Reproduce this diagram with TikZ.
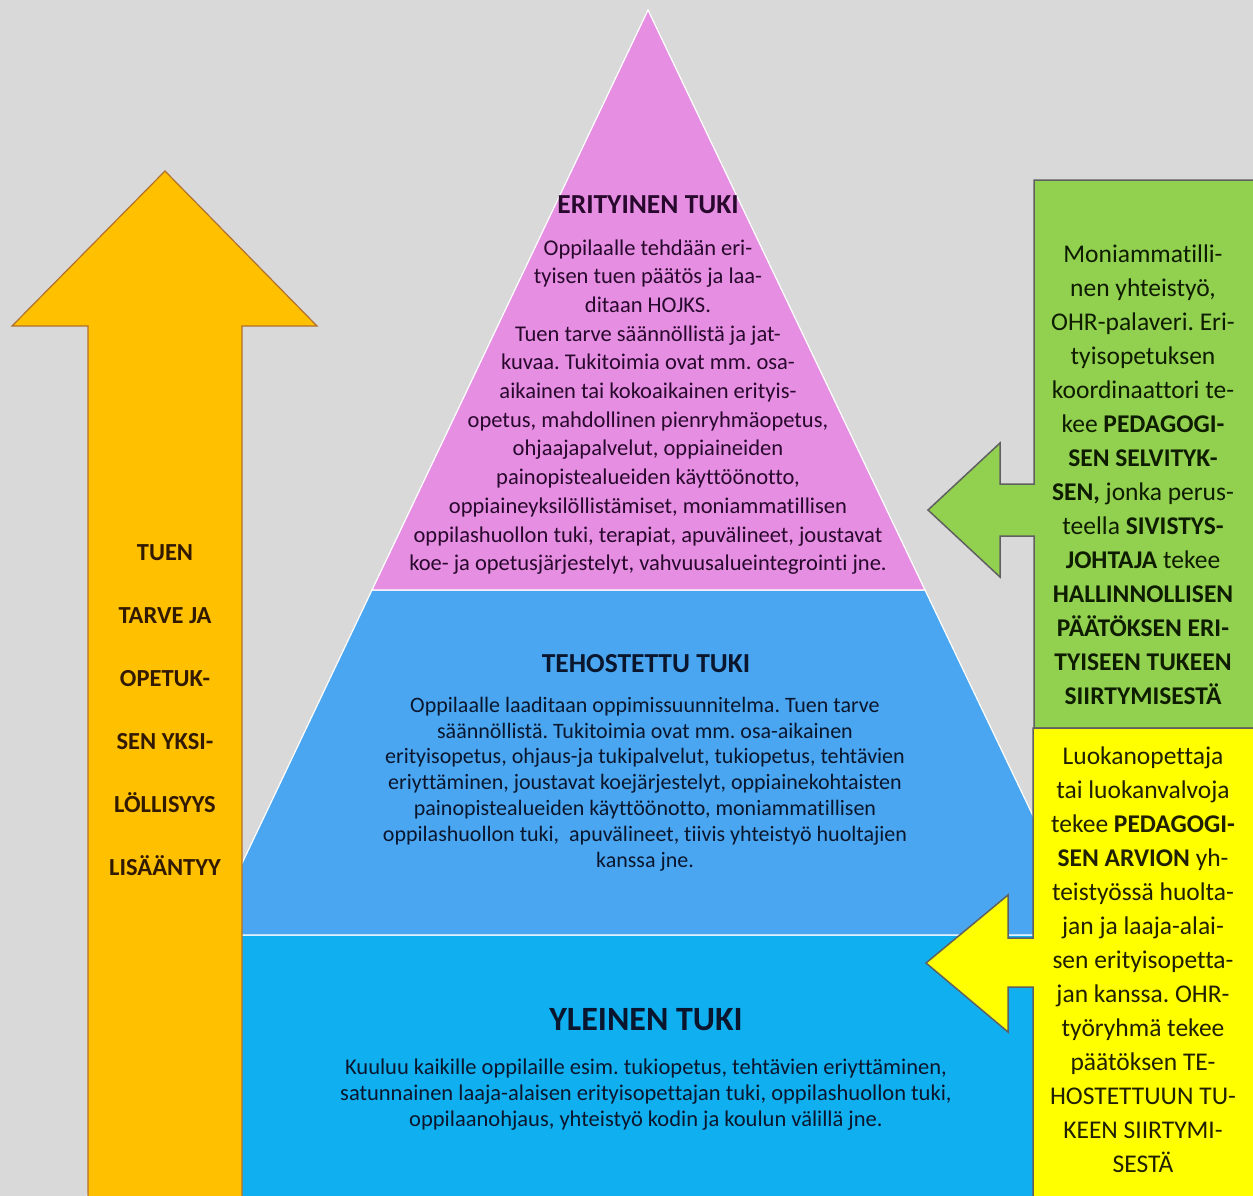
\documentclass[tikz,border=0pt]{standalone}
\usepackage{fontspec}
\setmainfont{Carlito}[Ligatures={NoCommon}]
\frenchspacing
\definecolor{bg}{RGB}{217,217,217}
\definecolor{pinkfill}{RGB}{230,143,226}
\definecolor{midblue}{RGB}{74,166,240}
\definecolor{lowblue}{RGB}{16,176,240}
\definecolor{orangefill}{RGB}{255,192,0}
\definecolor{orangeedge}{RGB}{176,112,48}
\definecolor{greenfill}{RGB}{146,208,80}
\definecolor{yellowfill}{RGB}{255,255,0}
\definecolor{boxedge}{RGB}{96,96,96}
\definecolor{pinktext}{RGB}{40,8,45}
\definecolor{bluetext}{RGB}{10,22,45}
\definecolor{greentext}{RGB}{14,28,0}
\definecolor{yellowtext}{RGB}{32,32,0}
\definecolor{orangetext}{RGB}{50,26,0}
\tikzset{
  layer/.style={draw=white, line width=1.2pt, line join=miter},
  headtxt/.style={font=\fontsize{27.5}{32}\selectfont\bfseries, inner sep=0pt},
  bodytxt/.style={align=center, inner sep=0pt},
  sidetxt/.style={align=center, inner sep=0pt, font=\fontsize{25.5}{34}\selectfont},
}
\begin{document}
\begin{tikzpicture}[x=1pt,y=-1pt]
\useasboundingbox (0,0) rectangle (1253,1196);
\clip (0,0) rectangle (1253,1196);
\fill[bg] (0,0) rectangle (1253,1196);
% pyramid
\draw[layer, fill=lowblue] (208,935) -- (1090,935) -- (1215,1200) -- (85,1200) -- cycle;
\draw[layer, fill=midblue] (372,590) -- (925,590) -- (1090,935) -- (208,935) -- cycle;
\draw[layer, fill=pinkfill] (648,10) -- (925,590) -- (372,590) -- cycle;
% orange arrow
\draw[fill=orangefill, draw=orangeedge, line width=1.2pt, line join=miter]
  (165,171) -- (317,326) -- (242,326) -- (242,1205) -- (88,1205) -- (88,326) -- (12,326) -- cycle;
% green callout
\draw[fill=greenfill, draw=boxedge, line width=1.5pt, line join=miter]
  (1034,180) -- (1262,180) -- (1262,728) -- (1034,728) -- (1034,536) -- (1000,536) -- (1000,577)
  -- (928,510) -- (1000,443) -- (1000,484) -- (1034,484) -- cycle;
% yellow callout
\draw[fill=yellowfill, draw=boxedge, line width=1.5pt, line join=miter]
  (1033,728) -- (1262,728) -- (1262,1205) -- (1033,1205) -- (1033,987) -- (1008,987) -- (1008,1032)
  -- (926,963) -- (1008,895) -- (1008,938) -- (1033,938) -- cycle;
% texts
\node[headtxt, text=pinktext] (h1) at (648,205) {ERITYINEN TUKI};
\node[bodytxt, text=pinktext, font=\fontsize{22.5}{28.7}\selectfont] (b1) at (648,407) {Oppilaalle tehdään eri-\\tyisen tuen päätös ja laa-\\ditaan HOJKS.\\Tuen tarve säännöllistä ja jat-\\kuvaa. Tukitoimia ovat mm. osa-\\aikainen tai kokoaikainen erityis-\\opetus, mahdollinen pienryhmäopetus,\\ohjaajapalvelut, oppiaineiden\\painopistealueiden käyttöönotto,\\oppiaineyksilöllistämiset, moniammatillisen\\oppilashuollon tuki, terapiat, apuvälineet, joustavat\\koe- ja opetusjärjestelyt, vahvuusalueintegrointi jne.};
\node[headtxt, text=bluetext] (h2) at (646,664) {TEHOSTETTU TUKI};
\node[bodytxt, text=bluetext, font=\fontsize{22}{25.8}\selectfont] (b2) at (645,784) {Oppilaalle laaditaan oppimissuunnitelma. Tuen tarve\\säännöllistä. Tukitoimia ovat mm. osa-aikainen\\erityisopetus, ohjaus-ja tukipalvelut, tukiopetus, tehtävien\\eriyttäminen, joustavat koejärjestelyt, oppiainekohtaisten\\painopistealueiden käyttöönotto, moniammatillisen\\oppilashuollon tuki,~ apuvälineet, tiivis yhteistyö huoltajien\\kanssa jne.};
\node[headtxt, text=bluetext, font=\fontsize{34}{38}\selectfont\bfseries] (h3) at (646,1020) {YLEINEN TUKI};
\node[bodytxt, text=bluetext, font=\fontsize{22.5}{26}\selectfont] (b3) at (646,1095) {Kuuluu kaikille oppilaille esim. tukiopetus, tehtävien eriyttäminen,\\satunnainen laaja-alaisen erityisopettajan tuki, oppilashuollon tuki,\\oppilaanohjaus, yhteistyö kodin ja koulun välillä jne.};
\node[bodytxt, text=orangetext, font=\fontsize{24.5}{63}\selectfont\bfseries] (o1) at (165,710) {TUEN\\TARVE JA\\OPETUK-\\SEN YKSI-\\LÖLLISYYS\\LISÄÄNTYY};
\node[sidetxt, text=greentext] (g1) at (1143,475) {Moniammatilli-\\nen yhteistyö,\\OHR-palaveri. Eri-\\tyisopetuksen\\koordinaattori te-\\kee \textbf{PEDAGOGI-}\\\textbf{SEN SELVITYK-}\\\textbf{SEN,} jonka perus-\\teella \textbf{SIVISTYS-}\\\textbf{JOHTAJA} tekee\\\textbf{HALLINNOLLISEN}\\\textbf{PÄÄTÖKSEN ERI-}\\\textbf{TYISEEN TUKEEN}\\\textbf{SIIRTYMISESTÄ}};
\node[sidetxt, text=yellowtext] (y1) at (1143,960) {Luokanopettaja\\tai luokanvalvoja\\tekee \textbf{PEDAGOGI-}\\\textbf{SEN ARVION} yh-\\teistyössä huolta-\\jan ja laaja-alai-\\sen erityisopetta-\\jan kanssa. OHR-\\työryhmä tekee\\päätöksen TE-\\HOSTETTUUN TU-\\KEEN SIIRTYMI-\\SESTÄ};
\end{tikzpicture}
\end{document}
